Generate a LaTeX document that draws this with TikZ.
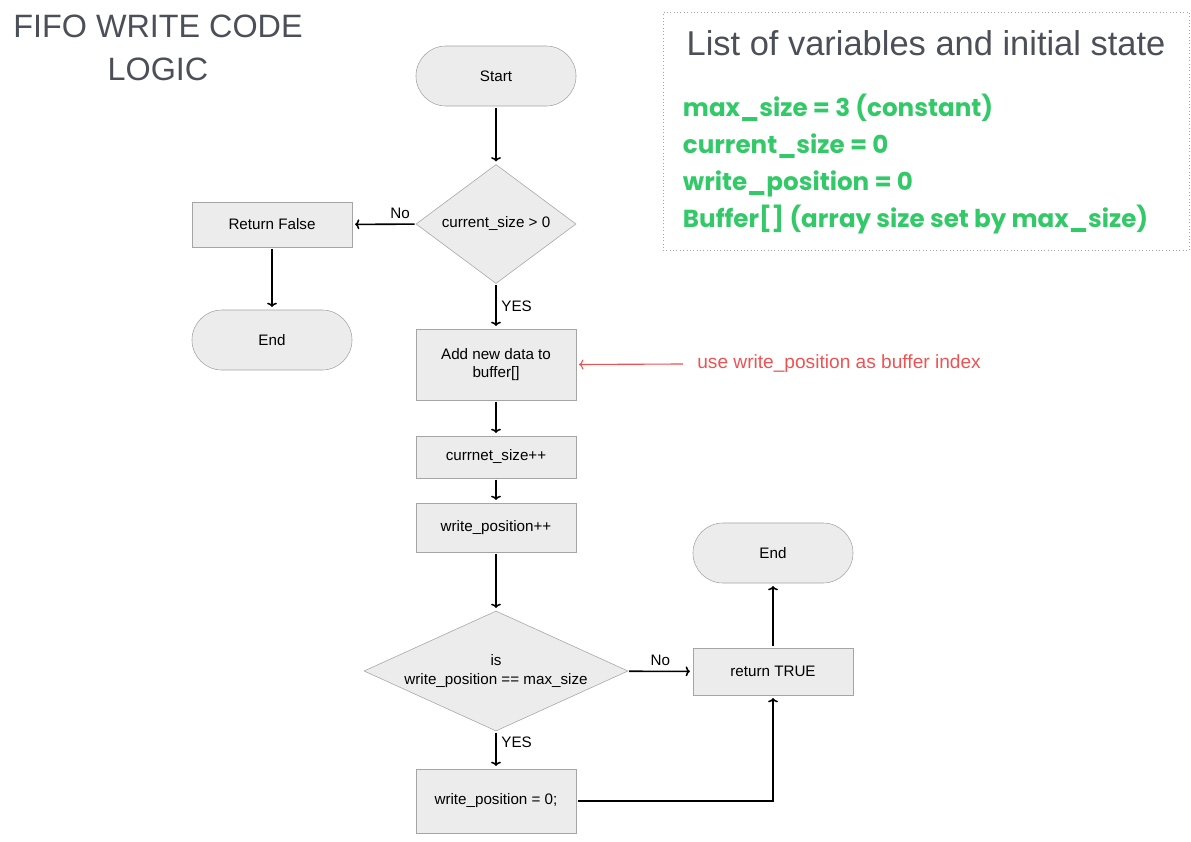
\documentclass[tikz,border=0pt]{standalone}
\usepackage{fontspec}
\setmainfont{Liberation Sans}
\newfontfamily\varfont{Poppins}
\usetikzlibrary{shapes.geometric,arrows.meta}

\definecolor{boxfill}{RGB}{236,236,236}
\definecolor{boxline}{RGB}{165,165,165}
\definecolor{titlegray}{RGB}{75,79,88}
\definecolor{vargreen}{RGB}{52,201,104}
\definecolor{notered}{RGB}{238,82,82}

\tikzset{
  txt/.style={font=\fontsize{10.8}{13}\selectfont},
  process/.style={draw=boxline, fill=boxfill, rectangle, minimum width=4cm, txt, align=center},
  terminal/.style={draw=boxline, fill=boxfill, rectangle, rounded corners=0.75cm, minimum width=4cm, minimum height=1.5cm, txt},
  decision/.style={draw=boxline, fill=boxfill, diamond, inner sep=1pt, txt, align=center},
  flow/.style={-{To[length=3pt,width=7pt]}, line width=1.1pt, shorten >=2pt, shorten <=1pt}
}

\begin{document}
\begin{tikzpicture}[x=0.025cm, y=-0.025cm]
\useasboundingbox (0,0) rectangle (1191,842);

\node[font=\fontsize{23}{30.6}\selectfont, text=titlegray, align=center] (title) at (158,48) {FIFO WRITE CODE\\LOGIC};

\node[draw=boxline, dotted, minimum width=13.15cm, minimum height=5.95cm] (varbox) at (926,131) {};
\node[font=\fontsize{24.5}{28}\selectfont, text=titlegray] (vartitle) at (926,43) {List of variables and initial state};
\node[anchor=west, text=vargreen, font=\varfont\bfseries\fontsize{17.5}{26.3}\selectfont, align=left] (varlist) at (678,164) {max\_size = 3 (constant)\\current\_size = 0\\write\_position = 0\\Buffer[] (array size set by max\_size)};

\node[terminal] (start) at (496,76) {Start};
\node[decision, aspect=1.34, minimum width=4cm, minimum height=2.975cm] (chksize) at (496,224) {current\_size > 0};
\node[process, minimum height=1.125cm] (retfalse) at (272,224.5) {Return False};
\node[terminal] (endleft) at (272,340) {End};
\node[process, minimum height=1.775cm] (adddata) at (496,364.5) {Add new data to\\buffer[]};
\node[process, minimum height=1.05cm] (incsize) at (496,457) {currnet\_size++};
\node[process, minimum height=1.225cm] (incpos) at (496,527.5) {write\_position++};
\node[decision, aspect=2.2, minimum width=6.6cm, minimum height=3cm] (chkpos) at (496,671) {is\\write\_position == max\_size};
\node[process, minimum height=1.6cm] (resetpos) at (496,801) {write\_position = 0;};
\node[process, minimum height=1.175cm] (rettrue) at (773,671.5) {return TRUE};
\node[terminal] (endright) at (773,553) {End};

\node[anchor=west, text=notered, inner xsep=10pt, font=\fontsize{13.6}{16}\selectfont] (note) at (683,364) {use write\_position as buffer index};

\draw[flow] (start) -- (chksize);
\draw[flow] (chksize) -- node[pos=0.25, above, txt] {No} (retfalse);
\draw[flow] (chksize) -- node[right, txt] {YES} (adddata);
\draw[flow] (retfalse) -- (endleft);
\draw[flow] (adddata) -- (incsize);
\draw[flow] (incsize) -- (incpos);
\draw[flow] (incpos) -- (chkpos);
\draw[flow] (chkpos) -- node[above, txt] {No} (rettrue);
\draw[flow] (chkpos) -- node[pos=0.3, right, txt] {YES} (resetpos);
\draw[flow] (resetpos.east) -| (rettrue.south);
\draw[flow] (rettrue) -- (endright);
\draw[flow, notered, line width=0.8pt, shorten <=0pt] (note.west) -- (adddata.east);

\end{tikzpicture}
\end{document}
